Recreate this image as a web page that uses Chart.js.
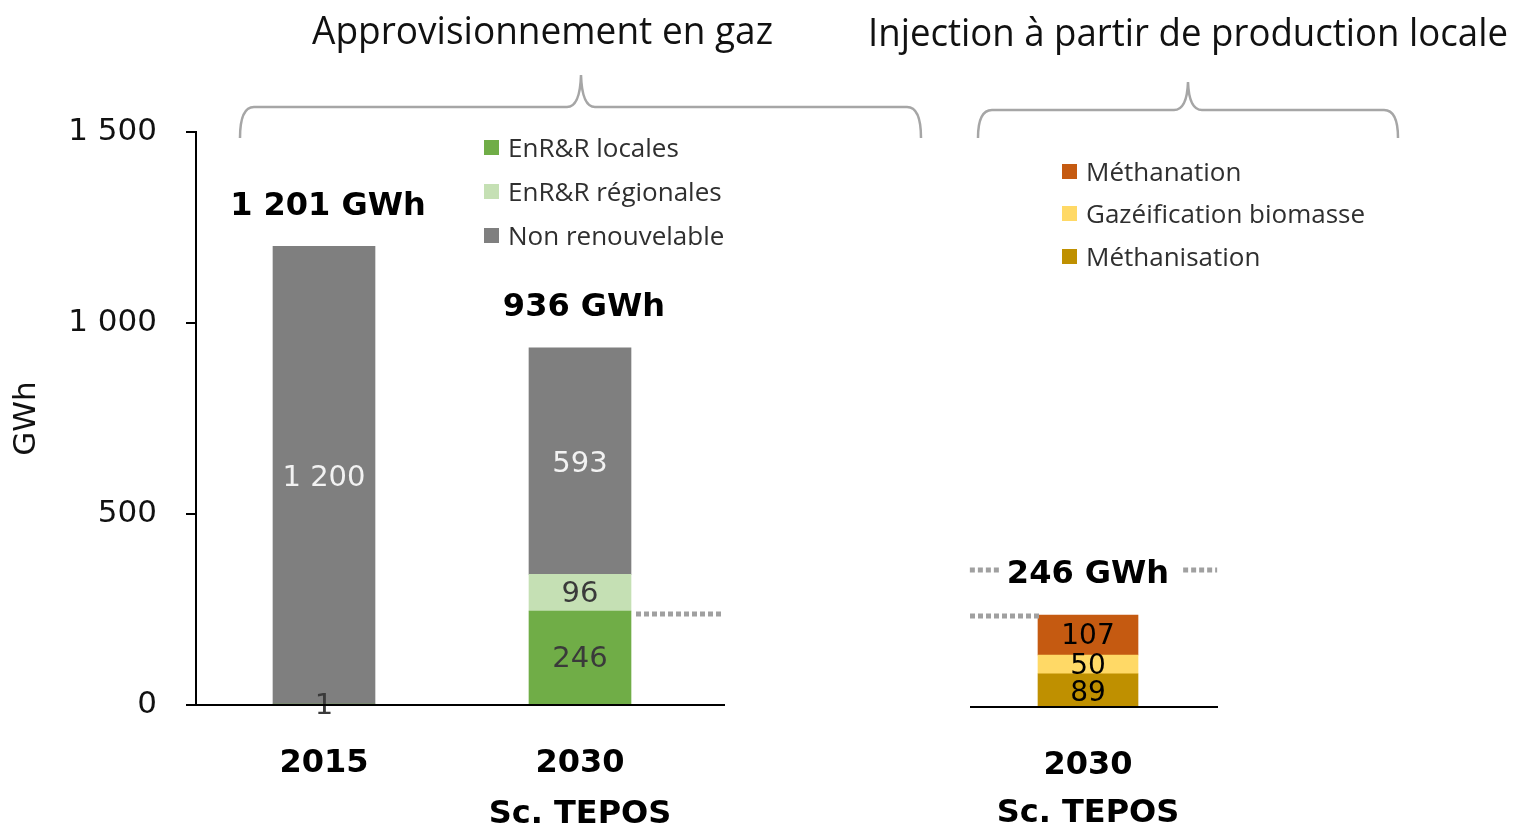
<!DOCTYPE html>
<html>
<head>
<meta charset="utf-8">
<script src="https://cdn.jsdelivr.net/npm/chart.js@4.4.1/dist/chart.umd.min.js"></script>
<style>
  body { margin: 0; background: #fff; }
  #wrap { position: relative; width: 1513px; height: 827px; overflow: hidden; }
  canvas { position: absolute; left: 0; top: 0; }
  .title { position: absolute; font-family: 'Open Sans', sans-serif; font-size: 39px; line-height: 42px;
           white-space: nowrap; color: #111; transform-origin: left top; }
  .legend { position: absolute; font-family: 'Open Sans', sans-serif; font-size: 26px; color: #2f2f2f; }
  .legend div { display: flex; align-items: center; height: 30px; position: absolute; left: 0; white-space: nowrap; }
  .legend span.box { display: inline-block; width: 15px; height: 15px; margin-right: 9px; }
</style>
</head>
<body>
<div id="wrap">
  <canvas id="supply" width="1513" height="827"></canvas>
  <canvas id="injection" width="1513" height="827"></canvas>
  <div class="title" id="t1" style="left:312px; top:8px;" data-width="461">Approvisionnement en gaz</div>
  <div class="title" id="t2" style="left:868px; top:10px;" data-width="640">Injection à partir de production locale</div>
  <div class="legend" id="legend-left" style="left:484px; top:0;"></div>
  <div class="legend" id="legend-right" style="left:1062px; top:0;"></div>
</div>
<script>
// données - approvisionnement
var supplyLabels = [['2015'], ['2030', 'Sc. TEPOS']];
var enrLocales = [1, 246];
var enrRegionales = [0, 96];
var nonRenouvelable = [1200, 593];
var supplyTotals = [1201, 936];

// données - injection locale
var injectionLabels = [['2030', 'Sc. TEPOS']];
var methanisation = [89];
var gazeification = [50];
var methanation = [107];
var injectionTotals = [246];

var yTicks = [0, 500, 1000, 1500];

var colors = {
  locales: '#70ad47',
  regionales: '#c5e0b4',
  nonRenouvelable: '#7f7f7f',
  methanation: '#c55a11',
  gazeification: '#ffd966',
  methanisation: '#bf9000'
};

function formatNumber(n) {
  return String(n).replace(/\B(?=(\d{3})+(?!\d))/g, ' ');
}

// valeurs au centre des segments
var valueLabels = {
  id: 'valueLabels',
  afterDatasetsDraw: function (chart) {
    var ctx = chart.ctx;
    ctx.save();
    ctx.textAlign = 'center';
    ctx.textBaseline = 'middle';
    chart.data.datasets.forEach(function (ds, i) {
      var meta = chart.getDatasetMeta(i);
      meta.data.forEach(function (bar, j) {
        var v = ds.data[j];
        if (!v) {
          return;
        }
        ctx.font = ds.labelFont;
        ctx.fillStyle = ds.labelColor;
        ctx.fillText(formatNumber(v), bar.x, (bar.y + bar.base) / 2 + (ds.labelShift || 0));
      });
    });
    ctx.restore();
  }
};

// totaux au dessus des barres + lignes pointillées
var totalsPlugin = {
  id: 'totals',
  afterDatasetsDraw: function (chart, args, opts) {
    var ctx = chart.ctx;
    var last = chart.getDatasetMeta(chart.data.datasets.length - 1);
    var yScale = chart.scales.y;
    ctx.save();
    ctx.font = 'bold 32px "DejaVu Sans"';
    ctx.fillStyle = '#000';
    ctx.textAlign = 'center';
    ctx.textBaseline = 'middle';
    opts.values.forEach(function (v, j) {
      var bar = last.data[j];
      var top = yScale.getPixelForValue(v);
      var text = formatNumber(v) + ' GWh';
      var cx = bar.x + (opts.shiftX || 0);
      ctx.fillText(text, cx, top - 40);
      if (opts.sideDots) {
        var w = ctx.measureText(text).width;
        ctx.strokeStyle = '#a0a0a0';
        ctx.lineWidth = 5;
        ctx.setLineDash([5, 3]);
        ctx.beginPath();
        ctx.moveTo(cx - w / 2 - 37, top - 45);
        ctx.lineTo(cx - w / 2 - 6, top - 45);
        ctx.moveTo(cx + w / 2 + 14, top - 45);
        ctx.lineTo(cx + w / 2 + 48, top - 45);
        ctx.stroke();
      }
    });
    // niveau EnR&R locales
    ctx.strokeStyle = '#a0a0a0';
    ctx.lineWidth = 5;
    ctx.setLineDash([5, 3]);
    ctx.beginPath();
    var yLevel = yScale.getPixelForValue(opts.level) + (opts.levelShift || 0);
    ctx.moveTo(opts.levelFrom, yLevel);
    ctx.lineTo(opts.levelTo, yLevel);
    ctx.stroke();
    ctx.restore();
  }
};

// ligne de base prolongée
var baseLine = {
  id: 'baseLine',
  afterDraw: function (chart, args, opts) {
    var ctx = chart.ctx;
    var y = chart.scales.y.getPixelForValue(0);
    ctx.save();
    ctx.strokeStyle = '#000';
    ctx.lineWidth = 2;
    ctx.beginPath();
    ctx.moveTo(opts.from, y);
    ctx.lineTo(opts.to, y);
    ctx.stroke();
    ctx.restore();
  }
};

// accolades
var braces = {
  id: 'braces',
  afterDraw: function (chart, args, opts) {
    var ctx = chart.ctx;
    ctx.save();
    ctx.strokeStyle = '#a6a6a6';
    ctx.lineWidth = 2.5;
    opts.list.forEach(function (b) {
      var r = 14;
      ctx.beginPath();
      ctx.moveTo(b.left, b.bottom);
      ctx.quadraticCurveTo(b.left, b.y, b.left + r, b.y);
      ctx.lineTo(b.mid - r, b.y);
      ctx.quadraticCurveTo(b.mid - 1, b.y, b.mid, b.tip);
      ctx.quadraticCurveTo(b.mid + 1, b.y, b.mid + r, b.y);
      ctx.lineTo(b.right - r, b.y);
      ctx.quadraticCurveTo(b.right, b.y, b.right, b.bottom);
      ctx.stroke();
    });
    ctx.restore();
  }
};

var labelFont = '29px "DejaVu Sans"';

new Chart(document.getElementById('supply'), {
  type: 'bar',
  data: {
    labels: supplyLabels,
    datasets: [
      { label: 'EnR&R locales', data: enrLocales, backgroundColor: colors.locales,
        labelColor: '#3a3a3a', labelFont: labelFont, labelShift: 2 },
      { label: 'EnR&R régionales', data: enrRegionales, backgroundColor: colors.regionales,
        labelColor: '#3a3a3a', labelFont: labelFont, labelShift: 2 },
      { label: 'Non renouvelable', data: nonRenouvelable, backgroundColor: colors.nonRenouvelable,
        labelColor: '#f2f2f2', labelFont: labelFont, labelShift: 3 }
    ]
  },
  options: {
    responsive: false,
    animation: false,
    barThickness: 102,
    layout: { padding: { left: 0, top: 132, right: 805, bottom: 0 } },
    plugins: {
      legend: { display: false },
      tooltip: { enabled: false },
      totals: { values: supplyTotals, shiftX: 4, level: enrLocales[1], levelShift: 3, levelFrom: 636, levelTo: 722 },
      baseLine: { from: 196, to: 725 }
    },
    scales: {
      x: {
        stacked: true,
        grid: { display: false, drawTicks: false },
        border: { display: false },
        ticks: {
          color: '#000',
          padding: 33,
          font: { family: 'DejaVu Sans', size: 32, weight: 'bold', lineHeight: 1.6 }
        },
        afterFit: function (scale) { scale.height = 122; }
      },
      y: {
        stacked: true,
        min: 0,
        max: 1500,
        afterBuildTicks: function (scale) {
          scale.ticks = yTicks.map(function (v) { return { value: v }; });
        },
        afterFit: function (scale) { scale.width = 196; },
        border: { display: true, color: '#000', width: 2 },
        grid: { drawOnChartArea: false, drawTicks: true, tickLength: 10, color: '#000', lineWidth: 2 },
        ticks: {
          color: '#111',
          padding: 29,
          font: { family: 'DejaVu Sans', size: 31 },
          callback: function (v) { return formatNumber(v); }
        },
        title: {
          display: true,
          text: 'GWh',
          color: '#111',
          padding: { top: 8, bottom: 0 },
          font: { family: 'DejaVu Sans', size: 31 }
        }
      }
    }
  },
  plugins: [valueLabels, totalsPlugin, baseLine]
});

new Chart(document.getElementById('injection'), {
  type: 'bar',
  data: {
    labels: injectionLabels,
    datasets: [
      { label: 'Méthanisation', data: methanisation, backgroundColor: colors.methanisation,
        labelColor: '#000', labelFont: '28px "DejaVu Sans"', labelShift: 3 },
      { label: 'Gazéification biomasse', data: gazeification, backgroundColor: colors.gazeification,
        labelColor: '#000', labelFont: '28px "DejaVu Sans"', labelShift: 2 },
      { label: 'Méthanation', data: methanation, backgroundColor: colors.methanation,
        labelColor: '#000', labelFont: '28px "DejaVu Sans"', labelShift: 2 }
    ]
  },
  options: {
    responsive: false,
    animation: false,
    barThickness: 100,
    layout: { padding: { left: 958, top: 146, right: 295, bottom: 0 } },
    plugins: {
      legend: { display: false },
      tooltip: { enabled: false },
      totals: { values: injectionTotals, sideDots: true, level: injectionTotals[0], levelShift: 1, levelFrom: 970, levelTo: 1040 },
      baseLine: { from: 970, to: 1218 },
      braces: {
        list: [
          { left: 240, right: 921, mid: 581, y: 107, tip: 75, bottom: 138 },
          { left: 978, right: 1398, mid: 1188, y: 110, tip: 82, bottom: 138 }
        ]
      }
    },
    scales: {
      x: {
        stacked: true,
        grid: { display: false, drawTicks: false },
        border: { display: false },
        ticks: {
          color: '#000',
          padding: 35,
          font: { family: 'DejaVu Sans', size: 32, weight: 'bold', lineHeight: 1.5 }
        },
        afterFit: function (scale) { scale.height = 120; }
      },
      y: {
        display: false,
        stacked: true,
        min: 0,
        max: 1500
      }
    }
  },
  plugins: [valueLabels, totalsPlugin, baseLine, braces]
});

// légendes
function buildLegend(id, items, rows) {
  var box = document.getElementById(id);
  items.forEach(function (item, i) {
    var row = document.createElement('div');
    row.style.top = (rows[i] - 15) + 'px';
    row.innerHTML = '<span class="box" style="background:' + item[1] + '"></span>' + item[0];
    box.appendChild(row);
  });
}
buildLegend('legend-left', [
  ['EnR&amp;R locales', colors.locales],
  ['EnR&amp;R régionales', colors.regionales],
  ['Non renouvelable', colors.nonRenouvelable]
], [147, 191, 235]);
buildLegend('legend-right', [
  ['Méthanation', colors.methanation],
  ['Gazéification biomasse', colors.gazeification],
  ['Méthanisation', colors.methanisation]
], [171, 213, 256]);

// titres ajustés en largeur
document.querySelectorAll('.title').forEach(function (el) {
  var target = Number(el.getAttribute('data-width'));
  var w = el.getBoundingClientRect().width;
  el.style.transform = 'scaleX(' + (target / w) + ')';
});
</script>
</body>
</html>
